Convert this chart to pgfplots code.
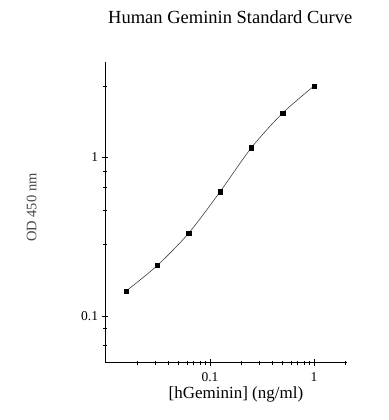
\documentclass[border=0pt]{standalone}
\usepackage{fontspec}
\setmainfont{Liberation Serif}
\usepackage{pgfplots}
\pgfplotsset{compat=1.18}
\begin{document}
\begin{tikzpicture}
\begin{axis}[
  at={(105pt,57.3pt)}, anchor=south west,
  scale only axis, width=242pt, height=300.7pt,
  xmode=log, ymode=log,
  xmin=0.00978, xmax=2.076, ymin=0.0508, ymax=3.986,
  axis x line=bottom, axis y line=left,
  axis line style={-, line width=0.8pt, black},
  xtick={0.1,1}, xticklabels={0.1,1},
  ytick={0.1,1}, yticklabels={0.1,1},
  minor xtick={0.02,0.03,0.04,0.05,0.06,0.07,0.08,0.09,0.2,0.3,0.4,0.5,0.6,0.7,0.8,0.9,2},
  minor ytick={0.0653,0.084,0.283,0.461,0.647,0.816,2.81},
  major tick length=6.8pt, minor tick length=4.3pt,
  tick style={black, line width=0.8pt},
  tick label style={font=\fontsize{13.5}{15}\selectfont},
  xticklabel style={yshift=-3pt},
  title={Human Geminin Standard Curve},
  title style={at={(axis description cs:0.5175,1.1087)}, anchor=base, font=\fontsize{18.5}{22}\selectfont},
  xlabel={[hGeminin] (ng/ml)},
  xlabel style={at={(axis description cs:0.541,-0.1207)}, anchor=base, font=\fontsize{17}{20}\selectfont},
  ylabel={OD 450 nm},
  ylabel style={at={(axis description cs:-0.2831,0.5155)}, anchor=base, font=\fontsize{14.5}{17}\selectfont, text=black!72},
]
\addplot[black!75, line width=0.6pt, smooth, mark=square*, mark size=2.2pt, mark options={black, fill=black, solid}]
  coordinates {(0.015625,0.1437) (0.03125,0.2087) (0.0625,0.3334) (0.125,0.607) (0.25,1.149) (0.5,1.901) (1,2.813)};
\end{axis}
\pgfresetboundingbox
\path (0,0) rectangle (388pt,420pt);
\end{tikzpicture}
\end{document}
